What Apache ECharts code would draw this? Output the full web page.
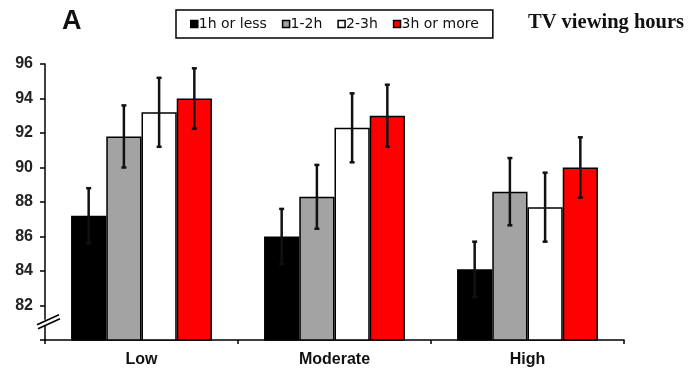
<!DOCTYPE html>
<html>
<head>
<meta charset="utf-8">
<script src="https://cdn.jsdelivr.net/npm/echarts@6/dist/echarts.min.js"></script>
<style>html,body{margin:0;padding:0;background:#fff;}#c{width:692px;height:378px;}</style>
</head>
<body>
<div id="c"></div>
<script>
// ---- data ----
var categories = ['Low', 'Moderate', 'High'];
var seriesNames = ['1h or less', '1-2h', '2-3h', '3h or more'];
var seriesColors = ['#000000', '#a3a3a3', '#ffffff', '#ff0000'];
var values1 = [87.2, 86.0, 84.1];
var values2 = [91.8, 88.3, 88.6];
var values3 = [93.2, 92.3, 87.7];
var values4 = [94.0, 93.0, 90.0];
var errors1 = [1.6, 1.6, 1.6];
var errors2 = [1.8, 1.85, 1.95];
var errors3 = [2.0, 2.0, 2.0];
var errors4 = [1.75, 1.8, 1.75];
var yTicks = [80, 82, 84, 86, 88, 90, 92, 94, 96];

var allValues = [values1, values2, values3, values4];
var allErrors = [errors1, errors2, errors3, errors4];
var catGap = 0.27;

var chart = echarts.init(document.getElementById('c'), null, {renderer: 'canvas'});

var series = [];
seriesNames.forEach(function (name, k) {
  series.push({
    name: name,
    type: 'bar',
    data: allValues[k],
    barGap: 0,
    barCategoryGap: (catGap * 100) + '%',
    itemStyle: {color: seriesColors[k], borderColor: '#000', borderWidth: 1.5},
    emphasis: {disabled: true},
    z: 2
  });
});
seriesNames.forEach(function (name, k) {
  series.push({
    name: 'err' + k,
    type: 'custom',
    z: 5,
    encode: {x: 0, y: 1},
    data: allValues[k].map(function (v, i) { return [i, v, allErrors[k][i]]; }),
    renderItem: function (params, api) {
      var ci = api.value(0), v = api.value(1), e = api.value(2);
      var c = api.coord([ci, v]);
      var w = api.size([1, 0])[0];
      var bw = w * (1 - catGap) / 4;
      var x = c[0] + (k - 1.5) * bw;
      var yt = api.coord([ci, v + e])[1];
      var yb = api.coord([ci, v - e])[1];
      var st = {stroke: '#111', lineWidth: 2.5};
      return {type: 'group', children: [
        {type: 'line', shape: {x1: x, y1: yt, x2: x, y2: yb}, style: st},
        {type: 'line', shape: {x1: x - 2.5, y1: yt, x2: x + 2.5, y2: yt}, style: st},
        {type: 'line', shape: {x1: x - 2.5, y1: yb, x2: x + 2.5, y2: yb}, style: st}
      ]};
    }
  });
});

var option = {
  backgroundColor: '#ffffff',
  animation: false,
  grid: {left: 45, right: 68, top: 64, bottom: 38},
  legend: {
    data: seriesNames.map(function (n, k) {
      return {name: n, icon: 'rect', itemStyle: {color: seriesColors[k], borderColor: '#000', borderWidth: 1.5}};
    }),
    left: 176, top: 10,
    itemWidth: 7, itemHeight: 7, itemGap: 15,
    padding: [7, 14, 7, 14],
    borderColor: '#000', borderWidth: 1.5,
    selectedMode: false,
    textStyle: {fontFamily: 'DejaVu Sans', fontSize: 14, color: '#111', padding: [0, 0, 0, -4]}
  },
  xAxis: {
    type: 'category',
    data: categories,
    axisLine: {lineStyle: {color: '#000', width: 1.5}},
    axisTick: {show: true, length: 4, lineStyle: {color: '#000', width: 1.5}},
    axisLabel: {fontFamily: 'Liberation Sans', fontWeight: 'bold', fontSize: 16, color: '#111', margin: 12}
  },
  yAxis: {
    type: 'value',
    min: yTicks[0], max: yTicks[yTicks.length - 1], interval: 2,
    splitLine: {show: false},
    axisLine: {show: true, lineStyle: {color: '#000', width: 1.5}},
    axisTick: {show: true, length: 5, lineStyle: {color: '#000', width: 1.5}},
    axisLabel: {
      fontFamily: 'Liberation Sans', fontWeight: 'bold', fontSize: 16, color: '#222', margin: 12,
      formatter: function (v) { return v === yTicks[0] ? '' : String(v); }
    }
  },
  series: series
};
chart.setOption(option);

// axis break and title texts
var x0 = 45;
var yb = chart.convertToPixel({yAxisIndex: 0}, 81);
chart.setOption({
  graphic: [
    {type: 'rect', shape: {x: x0 - 3, y: yb - 3, width: 6, height: 6}, style: {fill: '#fff'}, z: 100},
    {type: 'line', shape: {x1: x0 - 8, y1: yb + 2, x2: x0 + 14, y2: yb - 8}, style: {stroke: '#000', lineWidth: 1.5}, z: 101},
    {type: 'line', shape: {x1: x0 - 7, y1: yb + 6, x2: x0 + 15, y2: yb - 4}, style: {stroke: '#000', lineWidth: 1.5}, z: 101},
    {type: 'text', left: 62, top: 8, style: {text: 'A', font: 'bold 27px "Liberation Sans"', fill: '#111'}, z: 100},
    {type: 'text', left: 528, top: 12, style: {text: 'TV viewing hours', font: 'bold 20.5px "Liberation Serif"', fill: '#111'}, z: 100}
  ]
});
</script>
</body>
</html>
